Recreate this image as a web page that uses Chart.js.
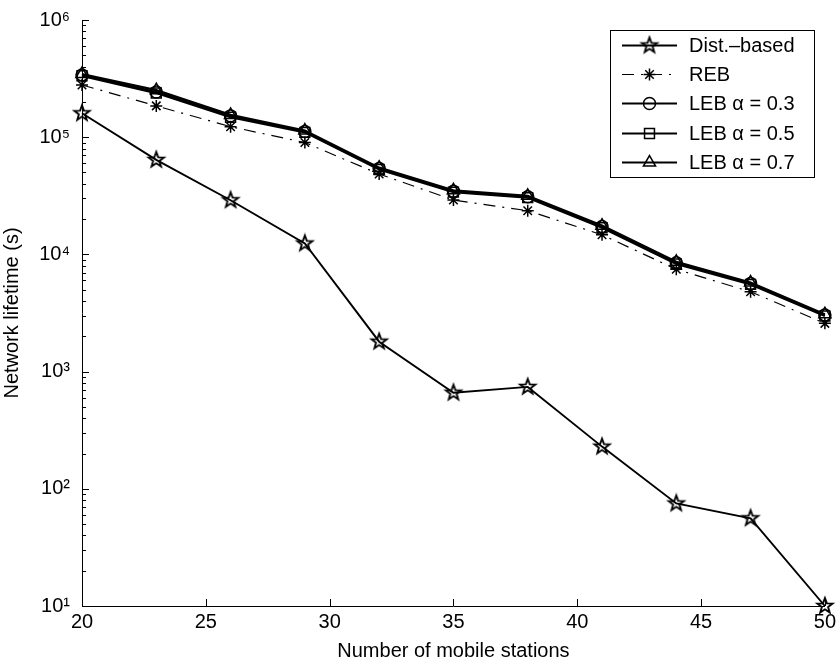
<!DOCTYPE html>
<html>
<head>
<meta charset="utf-8">
<script src="https://cdn.jsdelivr.net/npm/chart.js@4/dist/chart.umd.min.js"></script>
<style>
    html, body { margin: 0; padding: 0; background: #fff; }
    #wrap { width: 840px; height: 664px; }
</style>
</head>
<body>
<div id="wrap"><canvas id="lifetimeChart" width="840" height="664"></canvas></div>
<script>
// Network lifetime (s) against number of mobile stations
const stations = [20, 23, 26, 29, 32, 35, 38, 41, 44, 47, 50];
const distBased = [160000, 64000, 29000, 12400, 1800, 660, 740, 229, 75, 56, 10];
const rebLife = [279000, 185000, 123000, 90000, 48500, 29100, 23600, 14700, 7460, 4800, 2580];
const leb03 = [340000, 243000, 152000, 112000, 54000, 34500, 31000, 17300, 8500, 5650, 3040];
const leb05 = [334000, 238000, 148000, 110000, 53000, 34000, 30500, 16900, 8300, 5550, 2980];
const leb07 = [346000, 252000, 155000, 114000, 55000, 35200, 31600, 17600, 8650, 5750, 3090];

const xTicks = [20, 25, 30, 35, 40, 45, 50];
const yTicks = [1e1, 1e2, 1e3, 1e4, 1e5, 1e6];

const FONT = "'Liberation Sans', Arial, Helvetica, sans-serif";
const SUP = '⁰¹²³⁴⁵⁶⁷⁸⁹';

const toPoints = vals => stations.map((s, i) => ({ x: s, y: vals[i] }));

// outlined five-point star used as the marker for the distance based scheme
function pentagram(size, outer, inner, lw) {
    const c = document.createElement('canvas');
    c.width = size;
    c.height = size;
    const g = c.getContext('2d');
    const m = size / 2;
    g.beginPath();
    for (let k = 0; k < 10; k++) {
        const r = k % 2 === 0 ? outer : inner;
        const a = -Math.PI / 2 + k * Math.PI / 5;
        const px = m + r * Math.cos(a);
        const py = m + r * Math.sin(a);
        if (k === 0) g.moveTo(px, py); else g.lineTo(px, py);
    }
    g.closePath();
    g.lineWidth = lw;
    g.lineJoin = 'miter';
    g.strokeStyle = '#000';
    g.stroke();
    return c;
}

const starMark = pentagram(22, 8, 3.3, 1.9);

// MATLAB-style ticks pointing into the plot, with minor ticks on the log axis
const inwardTicks = {
    id: 'inwardTicks',
    afterDraw(chart) {
        const { ctx, chartArea: a, scales: { x, y } } = chart;
        ctx.save();
        ctx.strokeStyle = '#000';
        ctx.lineWidth = 1;
        ctx.beginPath();
        x.ticks.forEach(t => {
            const px = Math.round(x.getPixelForValue(t.value)) + 0.5;
            ctx.moveTo(px, a.bottom);
            ctx.lineTo(px, a.bottom - 7);
        });
        for (let d = 10; d <= 1e6; d *= 10) {
            for (let m = 1; m < 10; m++) {
                const v = d * m;
                if (v > 1e6) break;
                const py = Math.round(y.getPixelForValue(v)) + 0.5;
                ctx.moveTo(a.left, py);
                ctx.lineTo(a.left + (m === 1 ? 7 : 4), py);
            }
        }
        ctx.stroke();
        ctx.restore();
    }
};

// boxed legend in the upper right corner, line sample with marker
const boxLegend = {
    id: 'boxLegend',
    afterDraw(chart) {
        const { ctx, chartArea: a } = chart;
        const sets = chart.data.datasets;
        const w = 204, h = 147, rowH = 29.2;
        const left = Math.round(a.right - 11 - w);
        const top = Math.round(a.top + 10);

        ctx.save();
        ctx.fillStyle = '#fff';
        ctx.fillRect(left, top, w, h);
        ctx.strokeStyle = '#000';
        ctx.lineWidth = 1;
        ctx.strokeRect(left + 0.5, top + 0.5, w, h);

        sets.forEach((ds, i) => {
            const cy = Math.round(top + 15 + i * rowH) + 0.5;
            ctx.save();
            ctx.strokeStyle = '#000';
            ctx.lineWidth = ds.borderWidth;
            ctx.setLineDash(ds.borderDash || []);
            ctx.beginPath();
            ctx.moveTo(left + 12, cy);
            ctx.lineTo(left + 67, cy);
            ctx.stroke();
            ctx.setLineDash([]);
            ctx.lineWidth = ds.pointBorderWidth;
            ctx.fillStyle = 'rgba(0,0,0,0)';
            Chart.helpers.drawPoint(ctx, {
                pointStyle: ds.pointStyle,
                radius: ds.pointRadius,
                rotation: 0,
                borderWidth: ds.pointBorderWidth
            }, left + 39.5, cy);
            ctx.restore();

            ctx.fillStyle = '#000';
            ctx.font = `20px ${FONT}`;
            ctx.textBaseline = 'middle';
            ctx.fillText(ds.label, left + 79, cy + 1);
        });
        ctx.restore();
    }
};

const base = {
    borderColor: '#000',
    pointBorderColor: '#000',
    pointBackgroundColor: 'rgba(0,0,0,0)',
    pointBorderWidth: 1.5,
    fill: false,
    tension: 0,
    clip: false
};

new Chart(document.getElementById('lifetimeChart'), {
    type: 'line',
    data: {
        datasets: [
            { ...base, label: 'Dist.–based', data: toPoints(distBased), borderWidth: 1.9, pointStyle: starMark, pointRadius: 8 },
            { ...base, label: 'REB', data: toPoints(rebLife), borderWidth: 1.2, borderDash: [12, 7, 2, 7], pointStyle: 'star', pointRadius: 6 },
            { ...base, label: 'LEB α = 0.3', data: toPoints(leb03), borderWidth: 2.2, pointStyle: 'circle', pointRadius: 6 },
            { ...base, label: 'LEB α = 0.5', data: toPoints(leb05), borderWidth: 2.2, pointStyle: 'rect', pointRadius: 7 },
            { ...base, label: 'LEB α = 0.7', data: toPoints(leb07), borderWidth: 2.2, pointStyle: 'triangle', pointRadius: 7 }
        ]
    },
    options: {
        responsive: false,
        animation: false,
        devicePixelRatio: 1,
        layout: { padding: { top: 20, right: 14, left: 0, bottom: 0 } },
        plugins: {
            legend: { display: false },
            tooltip: { enabled: false }
        },
        scales: {
            x: {
                type: 'linear',
                min: 20,
                max: 50,
                afterBuildTicks: s => { s.ticks = xTicks.map(v => ({ value: v })); },
                afterFit: s => { s.height = 58; },
                grid: { display: false, drawTicks: false },
                border: { display: true, color: '#000', width: 1 },
                ticks: { color: '#000', padding: 4, maxRotation: 0, font: { family: FONT, size: 20 } },
                title: {
                    display: true,
                    text: 'Number of mobile stations',
                    color: '#000',
                    padding: { top: 0, bottom: 1 },
                    font: { family: FONT, size: 20 }
                }
            },
            y: {
                type: 'logarithmic',
                min: 10,
                max: 1e6,
                afterBuildTicks: s => { s.ticks = yTicks.map(v => ({ value: v, major: true })); },
                afterFit: s => {
                    s.width = 82;
                    s.paddingTop = 10;
                    s.paddingBottom = 10;
                },
                grid: { display: false, drawTicks: false },
                border: { display: true, color: '#000', width: 1 },
                ticks: {
                    color: '#000',
                    padding: 12,
                    font: { family: FONT, size: 20 },
                    callback: v => '10' + SUP[Math.round(Math.log10(v))]
                },
                title: {
                    display: true,
                    text: 'Network lifetime (s)',
                    color: '#000',
                    padding: { top: 0, bottom: 0 },
                    font: { family: FONT, size: 20 }
                }
            }
        }
    },
    plugins: [inwardTicks, boxLegend]
});
</script>
</body>
</html>
